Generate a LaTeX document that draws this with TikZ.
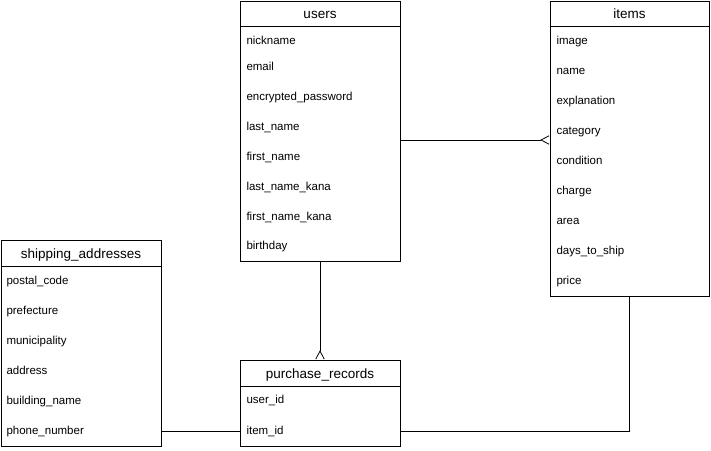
\documentclass[tikz,border=0pt]{standalone}
\usepackage{fontspec}
\setmainfont{Liberation Sans}
\usetikzlibrary{arrows.meta}

\begin{document}
\begin{tikzpicture}[x=1pt, y=-1pt, line width=1pt,
        tbl/.style = {rectangle, draw, inner sep=0pt},
        ttl/.style = {inner sep=0pt, yshift=-0.8pt, text height=10pt, text depth=3pt, font=\fontsize{13.5}{16}\selectfont},
        fld/.style = {anchor=west, inner sep=0pt, yshift=-1pt, text height=8.5pt, text depth=2.5pt, font=\fontsize{11.5}{14}\selectfont},
        crow/.tip = {Straight Barb[reversed, length=8pt, width=8.5pt, line width=0.8pt, line join=miter]}]
            \useasboundingbox (0, 0) rectangle (711, 450);

            % users
            \node[tbl, minimum width=160, minimum height=260] (users) at (320, 131) {};
            \draw (240, 26) -- (400, 26);
            \node[ttl] (users-t) at (320, 14) {users};
            \node[fld] (u1) at (246, 40) {nickname};
            \node[fld] (u2) at (246, 66) {email};
            \node[fld] (u3) at (246, 96) {encrypted\_password};
            \node[fld] (u4) at (246, 126) {last\_name};
            \node[fld] (u5) at (246, 156) {first\_name};
            \node[fld] (u6) at (246, 186) {last\_name\_kana};
            \node[fld] (u7) at (246, 216) {first\_name\_kana};
            \node[fld] (u8) at (246, 245) {birthday};

            % items
            \node[tbl, minimum width=159, minimum height=295] (items) at (629.5, 148.5) {};
            \draw (550, 26) -- (709, 26);
            \node[ttl] (items-t) at (629.5, 14) {items};
            \node[fld] (i1) at (556, 40) {image};
            \node[fld] (i2) at (556, 70) {name};
            \node[fld] (i3) at (556, 100) {explanation};
            \node[fld] (i4) at (556, 130) {category};
            \node[fld] (i5) at (556, 160) {condition};
            \node[fld] (i6) at (556, 190) {charge};
            \node[fld] (i7) at (556, 220) {area};
            \node[fld] (i8) at (556, 250) {days\_to\_ship};
            \node[fld] (i9) at (556, 280) {price};

            % shipping_addresses
            \node[tbl, minimum width=160, minimum height=206] (ship) at (81, 343) {};
            \draw (1, 266) -- (161, 266);
            \node[ttl] (ship-t) at (81, 254) {shipping\_addresses};
            \node[fld] (s1) at (6, 280) {postal\_code};
            \node[fld] (s2) at (6, 310) {prefecture};
            \node[fld] (s3) at (6, 340) {municipality};
            \node[fld] (s4) at (6, 370) {address};
            \node[fld] (s5) at (6, 400) {building\_name};
            \node[fld] (s6) at (6, 430) {phone\_number};

            % purchase_records
            \node[tbl, minimum width=160, minimum height=86] (purchase) at (320, 403) {};
            \draw (240, 386) -- (400, 386);
            \node[ttl] (purchase-t) at (320, 374) {purchase\_records};
            \node[fld] (p1) at (246, 399) {user\_id};
            \node[fld] (p2) at (246, 430) {item\_id};

            \draw [-crow](users.east |- 0, 140) -- (items.west |- 0, 140);
            \draw [-crow](users.south) -- (purchase.north);
            \draw (ship.east |- 0, 431) -- (purchase.west |- 0, 431);
            \draw (purchase.east |- 0, 431) -| (items.south);
        \end{tikzpicture}
\end{document}
